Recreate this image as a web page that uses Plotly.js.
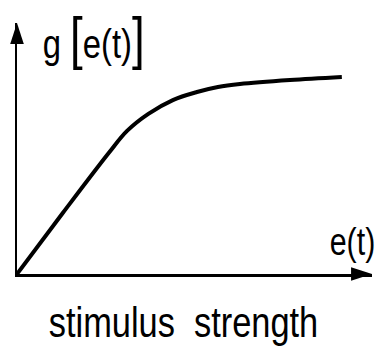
<!DOCTYPE html>
<html>
<head>
<meta charset="utf-8">
<script src="https://cdn.plot.ly/plotly-3.0.1.min.js"></script>
<style>
  html, body { margin: 0; padding: 0; background: #fff; }
  #plot { width: 380px; height: 347px; }
</style>
</head>
<body>
<div id="plot"></div>
<script>
// stimulus strength e(t) vs response g[e(t)] (axes run 0..100)
var stimulus = [0, 13, 26, 31, 37, 43.9, 50.7, 56.6, 62.8, 76.9, 91.5];
var response = [0, 24.5, 48.5, 57, 63.8, 69.3, 72.5, 74.5, 75.7, 77.3, 78.5];

// arrow tips at the ends of the two axes
var arrowX = [100, 0];
var arrowY = [0, 100];
var arrowAngle = [90, 0];

var yLabel = "g <span style='font-size:57px'>[</span>e(t)<span style='font-size:57px'>]</span>";
var xLabel = "e(t)";
var xTitle = "stimulus\u00A0\u00A0strength";

var fontFamily = "Liberation Sans, Arial, sans-serif";
var narrow = 0.8; // squeeze text like the condensed lettering

var curve = {
  x: stimulus,
  y: response,
  type: "scatter",
  mode: "lines",
  line: { color: "#000", width: 4, shape: "spline", smoothing: 1 },
  cliponaxis: false,
  hoverinfo: "skip"
};

var arrows = {
  x: arrowX,
  y: arrowY,
  type: "scatter",
  mode: "markers",
  marker: { symbol: "arrow", size: 22, color: "#000", angle: arrowAngle, line: { width: 0 } },
  cliponaxis: false,
  hoverinfo: "skip"
};

var layout = {
  width: 380,
  height: 347,
  margin: { l: 17, r: 8, t: 23, b: 73 },
  paper_bgcolor: "#fff",
  plot_bgcolor: "#fff",
  showlegend: false,
  xaxis: {
    range: [0, 100],
    showgrid: false, zeroline: false, showticklabels: false, ticks: "",
    showline: true, linecolor: "#000", linewidth: 2.5
  },
  yaxis: {
    range: [0, 100],
    showgrid: false, zeroline: false, showticklabels: false, ticks: "",
    showline: true, linecolor: "#000", linewidth: 2
  },
  annotations: [
    {
      text: yLabel, xref: "paper", yref: "paper", x: 0.215, y: 0.94,
      xanchor: "center", yanchor: "middle", showarrow: false,
      font: { family: fontFamily, size: 41, color: "#000" }
    },
    {
      text: xLabel, xref: "paper", yref: "paper", x: 0.944, y: 0.127,
      xanchor: "center", yanchor: "middle", showarrow: false,
      font: { family: fontFamily, size: 38, color: "#000" }
    },
    {
      text: xTitle, xref: "paper", yref: "paper", x: 0.468, y: -0.19,
      xanchor: "center", yanchor: "middle", showarrow: false,
      font: { family: fontFamily, size: 43, color: "#000" }
    }
  ]
};

Plotly.newPlot("plot", [curve, arrows], layout, { displayModeBar: false, staticPlot: true }).then(function(gd) {
  var texts = gd.querySelectorAll(".annotation-text");
  texts.forEach(function(t) {
    var box = t.getBBox();
    var cx = box.x + box.width / 2;
    var old = t.getAttribute("transform") || "";
    t.setAttribute("transform", old + " translate(" + cx + ",0) scale(" + narrow + ",1) translate(" + (-cx) + ",0)");
  });
});
</script>
</body>
</html>
